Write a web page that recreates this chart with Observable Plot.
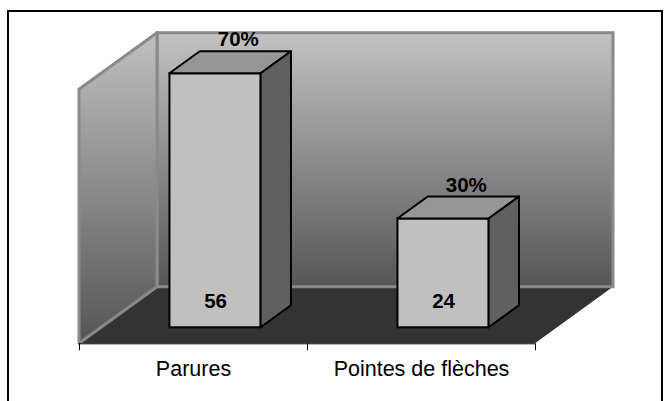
<!DOCTYPE html>
<html><head><meta charset="utf-8">
<script src="https://cdn.jsdelivr.net/npm/d3@7"></script>
<script src="https://cdn.jsdelivr.net/npm/@observablehq/plot@0.6"></script>
<style>
html,body{margin:0;padding:0;width:671px;height:401px;overflow:hidden;background:#fff;}
#frame{position:absolute;left:7px;top:10px;width:656px;height:440px;border:2px solid #000;box-sizing:border-box;}
#chart{position:absolute;left:0;top:0;}
</style></head><body>
<div id="frame"></div><div id="chart"></div>
<script>
// ---- data ----
const categories = ["Parures", "Pointes de flèches"];
const counts = [56, 24];
const percents = [70, 30];
const yMax = 56;

// ---- layout ----
const width = 671, height = 401;
const marginLeft = 79, marginRight = 136, marginTop = 89.3, marginBottom = 57.7;
const pxX = (width - marginLeft - marginRight) / categories.length;
const pxY = (height - marginTop - marginBottom) / yMax;
const DX = 78 / pxX, DY = 56.6 / pxY;      // full depth offset in data units
const d0 = 16 / 56.6, d1 = 38 / 56.6;       // bar depth band
const sd = d1 - d0;
const half = 0.2;

const bars = categories.map((c, i) => ({
  category: c, value: counts[i], pct: percents[i], i,
  L: i + 0.5 - half + d0 * DX, R: i + 0.5 + half + d0 * DX,
  yb: d0 * DY, yt: counts[i] + d0 * DY
}));
const topFaces = bars.flatMap(b => [
  {category: b.category, y: b.yt, x1: b.L, x2: b.R},
  {category: b.category, y: b.yt + sd * DY, x1: b.L + sd * DX, x2: b.R + sd * DX}
]);
const sideFaces = bars.flatMap(b => [
  {category: b.category, x: b.R, y1: b.yb, y2: b.yt},
  {category: b.category, x: b.R + sd * DX, y1: b.yb + sd * DY, y2: b.yt + sd * DY}
]);
const n = categories.length;
const backWall = [{x1: DX, x2: n + DX, y1: DY, y2: yMax + DY}];
const leftWall = [{x: 0, y1: 0, y2: yMax}, {x: DX, y1: DY, y2: yMax + DY}];
const floor = [{y: 0, x1: 0, x2: n}, {y: DY, x1: DX, x2: n + DX}];
const tickPos = d3.range(n + 1).map(x => ({x, y1: 0, y2: -7 / pxY}));

function defs() {
  const ns = "http://www.w3.org/2000/svg";
  const d = document.createElementNS(ns, "defs");
  d.innerHTML = `
    <linearGradient id="gBack" x1="0" y1="0" x2="0" y2="1">
      <stop offset="0" stop-color="#c2c2c2"/><stop offset="1" stop-color="#565656"/>
    </linearGradient>
    <linearGradient id="gLeft" x1="0" y1="0" x2="0" y2="1">
      <stop offset="0" stop-color="#c0c0c0"/><stop offset="1" stop-color="#555555"/>
    </linearGradient>`;
  return d;
}

const chart = Plot.plot({
  width, height, marginLeft, marginRight, marginTop, marginBottom,
  style: {fontFamily: "'Liberation Sans', Arial, sans-serif", background: "transparent", overflow: "visible"},
  x: {domain: [0, n], axis: null},
  y: {domain: [0, yMax], axis: null},
  marks: [
    defs,
    Plot.areaX(floor, {y: "y", x1: "x1", x2: "x2", fill: "#333333"}),
    Plot.rect(backWall, {x1: "x1", x2: "x2", y1: "y1", y2: "y2", fill: "url(#gBack)", stroke: "#8a8a8a", strokeWidth: 3}),
    Plot.areaY(leftWall, {x: "x", y1: "y1", y2: "y2", fill: "url(#gLeft)", stroke: "#8a8a8a", strokeWidth: 3}),
    Plot.ruleY([{y: 0, x1: 0, x2: n}], {y: "y", x1: "x1", x2: "x2", stroke: "#000", strokeWidth: 1}),
    Plot.ruleX(tickPos, {x: "x", y1: "y1", y2: "y2", stroke: "#000", strokeWidth: 1}),
    Plot.rect(bars, {x1: "L", x2: "R", y1: "yb", y2: "yt", fill: "#c0c0c0", stroke: "#000", strokeWidth: 2}),
    Plot.areaX(topFaces, {y: "y", x1: "x1", x2: "x2", z: "category", fill: "#969696", stroke: "#000", strokeWidth: 2}),
    Plot.areaY(sideFaces, {x: "x", y1: "y1", y2: "y2", z: "category", fill: "#606060", stroke: "#000", strokeWidth: 2}),
    Plot.text(bars, {x: d => d.i + 0.5, y: () => 0, dy: 25, text: "category", fontSize: 21.5, fill: "#000"}),
    Plot.text(bars, {x: d => (d.L + d.R) / 2 + 0.75 * sd * DX, y: d => d.yt + sd * DY, dy: -12, text: d => d.pct + "%", fontSize: 20.5, fontWeight: "bold", fill: "#000"}),
    Plot.text(bars, {x: d => (d.L + d.R) / 2, y: d => d.yb, dy: -26, text: d => String(d.value), fontSize: 20.5, fontWeight: "bold", fill: "#000"})
  ]
});
document.getElementById("chart").appendChild(chart);
</script>
</body></html>
